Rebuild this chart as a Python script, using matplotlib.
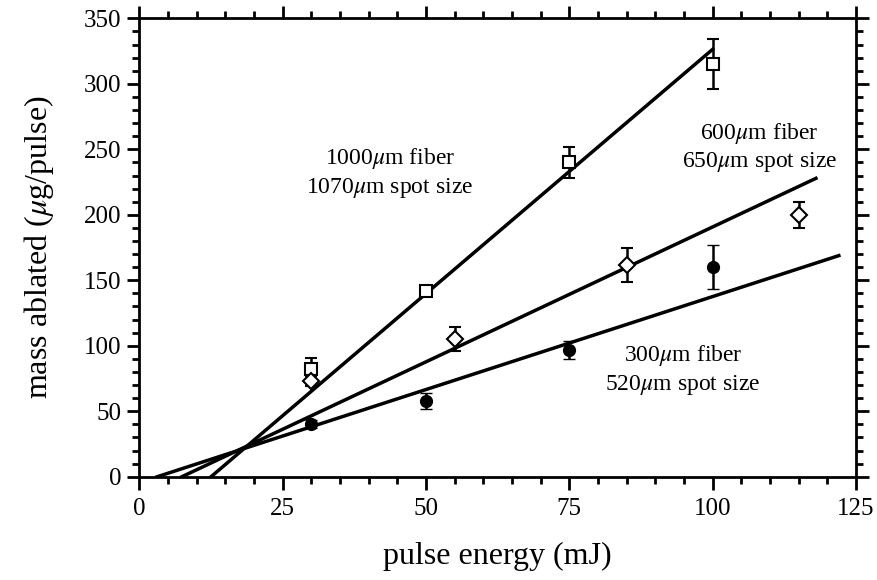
import matplotlib
matplotlib.use("Agg")
import matplotlib.pyplot as plt
import numpy as np
from matplotlib.ticker import MultipleLocator

plt.rcParams['font.family'] = ['Liberation Serif', 'DejaVu Serif']
plt.rcParams['mathtext.fontset'] = 'stix'

# data
x_1000 = [30, 50, 75, 100]
y_1000 = [82, 142, 240, 315]
e_1000 = [9, 4, 12, 19]

x_600 = [30, 55, 85, 115]
y_600 = [73, 105, 162, 200]
e_600 = [4, 9, 13, 10]

x_300 = [30, 50, 75, 100]
y_300 = [40, 58, 97, 160]
e_300 = [3, 6, 7, 17]

# fit lines: (x start, x end, slope, x-intercept)
fit_1000 = (12.5, 100, 3.73, 12.5)
fit_600 = (7.4, 118, 2.06, 7.4)
fit_300 = (3.1, 122, 1.42, 3.1)

fig = plt.figure(figsize=(8.78, 5.8), dpi=100)
ax = fig.add_axes([0.1587, 0.178, 0.8163, 0.7904])

for (x0, x1, m, xi) in (fit_1000, fit_600, fit_300):
    xs = np.array([x0, x1])
    ax.plot(xs, m * (xs - xi), color='black', lw=2.5, zorder=2)

ekw = dict(ecolor='black', elinewidth=1.8, capsize=4.5, capthick=1.8, ls='none', zorder=3)
ax.errorbar(x_1000, y_1000, yerr=e_1000, marker='s', ms=9, mfc='white', mec='black', mew=1.5, **ekw)
ax.errorbar(x_600, y_600, yerr=e_600, marker='D', ms=8, mfc='white', mec='black', mew=1.5, **ekw)
ax.errorbar(x_300, y_300, yerr=e_300, marker='o', ms=8.5, mfc='black', mec='black', mew=1.0, **ekw)

ax.set_xlim(0, 125)
ax.set_ylim(0, 350)
ax.xaxis.set_major_locator(MultipleLocator(25))
ax.xaxis.set_minor_locator(MultipleLocator(5))
ax.yaxis.set_major_locator(MultipleLocator(50))
ax.yaxis.set_minor_locator(MultipleLocator(10))
ax.tick_params(which='both', direction='out', top=True, right=True, width=2, labelsize=18)
ax.tick_params(which='major', length=9)
ax.tick_params(which='minor', length=5)
ax.tick_params(axis='x', pad=6)
ax.tick_params(axis='y', pad=4)
for s in ax.spines.values():
    s.set_linewidth(2)

ax.set_xlabel('pulse energy (mJ)', fontsize=23, labelpad=16)
ax.set_ylabel(r'mass ablated ($\mu$g/pulse)', fontsize=23, labelpad=20)

tk = dict(fontsize=17, ha='center', va='center', linespacing=1.25)
ax.text(43.7, 232, '1000$\\mu$m fiber\n1070$\\mu$m spot size', **tk)
ax.text(108.2, 251.5, '600$\\mu$m fiber\n650$\\mu$m spot size', **tk)
ax.text(94.8, 81.5, '300$\\mu$m fiber\n520$\\mu$m spot size', **tk)

fig.savefig('out.png', dpi=100)
